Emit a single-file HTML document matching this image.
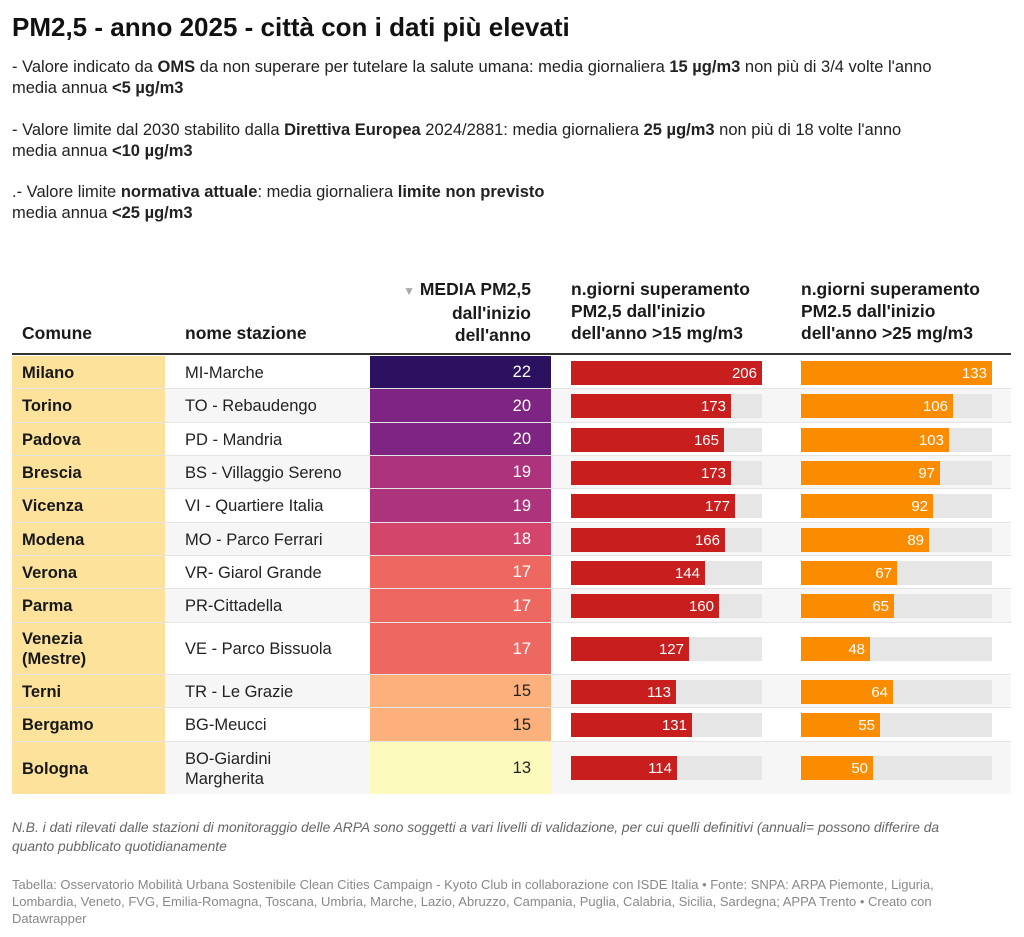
<!DOCTYPE html>
<html><head><meta charset="utf-8"><style>
body{margin:0;width:1024px;height:937px;background:#fff;font-family:"Liberation Sans",sans-serif;color:#181818;position:relative;overflow:hidden}
.a{position:absolute}
h1{position:absolute;left:12px;top:12px;margin:0;font-size:26px;font-weight:bold;color:#111}
.p{position:absolute;left:12px;font-size:16.5px;line-height:21px;color:#222;white-space:nowrap}
.hd{position:absolute;font-size:17.5px;font-weight:bold;line-height:22px;color:#1a1a1a;white-space:nowrap}
.r{position:absolute;left:12px;width:999px;border-bottom:1px solid #e4e4e4;box-sizing:border-box}
.r.g{background:#f6f6f6}
.c{position:absolute;left:0;top:0;bottom:0;width:153px;background:#fde29b;font-weight:bold;font-size:16.5px;display:flex;align-items:center;padding-left:10px;padding-top:1px;box-sizing:border-box;line-height:20px}
.s{position:absolute;left:173px;top:0;bottom:0;display:flex;align-items:center;padding-top:1px;font-size:16.5px;line-height:20px;color:#222}
.m{position:absolute;left:358px;width:181px;top:0;bottom:0;display:flex;align-items:center;justify-content:flex-end;padding-right:20px;padding-top:1px;box-sizing:border-box;font-size:16.5px;color:#fff}
.b1,.b2{position:absolute;height:24px;background:#e6e6e6;width:191px}
.b1{left:559px}.b2{left:789px}
.f{position:absolute;left:0;top:0;height:24px;color:#fff;font-size:15px;line-height:25px;text-align:right;padding-right:5px;box-sizing:border-box}
.b1 .f{background:#c81e1e}.b2 .f{background:#fb8c00}
</style></head><body>
<h1>PM2,5 - anno 2025 - città con i dati più elevati</h1>
<div class="p" style="top:57px">- Valore indicato da <b>OMS</b> da non superare per tutelare la salute umana: media giornaliera <b>15 µg/m3</b> non più di 3/4 volte l'anno<br>media annua <b>&lt;5 µg/m3</b></div>
<div class="p" style="top:120px">- Valore limite dal 2030 stabilito dalla <b>Direttiva Europea</b> 2024/2881: media giornaliera <b>25 µg/m3</b> non più di 18 volte l'anno<br>media annua <b>&lt;10 µg/m3</b></div>
<div class="p" style="top:182px">.- Valore limite <b>normativa attuale</b>: media giornaliera <b>limite non previsto</b><br>media annua <b>&lt;25 µg/m3</b></div>

<div class="hd" style="left:22px;top:322px">Comune</div>
<div class="hd" style="left:185px;top:322px">nome stazione</div>
<div class="hd" style="left:360px;top:278px;width:171px;text-align:right"><span style="color:#aaa;font-size:12px">▼</span> MEDIA PM2,5<br>dall'inizio<br>dell'anno</div>
<div class="hd" style="left:571px;top:278px">n.giorni superamento<br>PM2,5 dall'inizio<br>dell'anno &gt;15 mg/m3</div>
<div class="hd" style="left:801px;top:278px">n.giorni superamento<br>PM2.5 dall'inizio<br>dell'anno &gt;25 mg/m3</div>
<div class="a" style="left:12px;top:353px;width:999px;height:2px;background:#333"></div>

<div class="r" style="top:356px;height:33px"><div class="c">Milano</div><div class="s">MI-Marche</div><div class="m" style="background:#2c1160">22</div><div class="b1" style="top:5px"><div class="f" style="width:191px">206</div></div><div class="b2" style="top:5px"><div class="f" style="width:191px">133</div></div></div>
<div class="r g" style="top:389px;height:34px"><div class="c">Torino</div><div class="s">TO - Rebaudengo</div><div class="m" style="background:#7e2482">20</div><div class="b1" style="top:5px"><div class="f" style="width:160px">173</div></div><div class="b2" style="top:5px"><div class="f" style="width:152px">106</div></div></div>
<div class="r" style="top:423px;height:33px"><div class="c">Padova</div><div class="s">PD - Mandria</div><div class="m" style="background:#7e2482">20</div><div class="b1" style="top:5px"><div class="f" style="width:153px">165</div></div><div class="b2" style="top:5px"><div class="f" style="width:148px">103</div></div></div>
<div class="r g" style="top:456px;height:33px"><div class="c">Brescia</div><div class="s">BS - Villaggio Sereno</div><div class="m" style="background:#ad347c">19</div><div class="b1" style="top:5px"><div class="f" style="width:160px">173</div></div><div class="b2" style="top:5px"><div class="f" style="width:139px">97</div></div></div>
<div class="r" style="top:489px;height:34px"><div class="c">Vicenza</div><div class="s">VI - Quartiere Italia</div><div class="m" style="background:#ad347c">19</div><div class="b1" style="top:5px"><div class="f" style="width:164px">177</div></div><div class="b2" style="top:5px"><div class="f" style="width:132px">92</div></div></div>
<div class="r g" style="top:523px;height:33px"><div class="c">Modena</div><div class="s">MO - Parco Ferrari</div><div class="m" style="background:#d4456b">18</div><div class="b1" style="top:5px"><div class="f" style="width:154px">166</div></div><div class="b2" style="top:5px"><div class="f" style="width:128px">89</div></div></div>
<div class="r" style="top:556px;height:33px"><div class="c">Verona</div><div class="s">VR- Giarol Grande</div><div class="m" style="background:#ee6862">17</div><div class="b1" style="top:5px"><div class="f" style="width:134px">144</div></div><div class="b2" style="top:5px"><div class="f" style="width:96px">67</div></div></div>
<div class="r g" style="top:589px;height:34px"><div class="c">Parma</div><div class="s">PR-Cittadella</div><div class="m" style="background:#ee6862">17</div><div class="b1" style="top:5px"><div class="f" style="width:148px">160</div></div><div class="b2" style="top:5px"><div class="f" style="width:93px">65</div></div></div>
<div class="r" style="top:623px;height:52px"><div class="c">Venezia<br>(Mestre)</div><div class="s">VE - Parco Bissuola</div><div class="m" style="background:#ee6862">17</div><div class="b1" style="top:14px"><div class="f" style="width:118px">127</div></div><div class="b2" style="top:14px"><div class="f" style="width:69px">48</div></div></div>
<div class="r g" style="top:675px;height:33px"><div class="c">Terni</div><div class="s">TR - Le Grazie</div><div class="m" style="background:#fcb07c;color:#222">15</div><div class="b1" style="top:5px"><div class="f" style="width:105px">113</div></div><div class="b2" style="top:5px"><div class="f" style="width:92px">64</div></div></div>
<div class="r" style="top:708px;height:34px"><div class="c">Bergamo</div><div class="s">BG-Meucci</div><div class="m" style="background:#fcb07c;color:#222">15</div><div class="b1" style="top:5px"><div class="f" style="width:121px">131</div></div><div class="b2" style="top:5px"><div class="f" style="width:79px">55</div></div></div>
<div class="r g" style="top:742px;height:52px;border-bottom:none"><div class="c">Bologna</div><div class="s">BO-Giardini<br>Margherita</div><div class="m" style="background:#fcfabc;color:#222">13</div><div class="b1" style="top:14px"><div class="f" style="width:106px">114</div></div><div class="b2" style="top:14px"><div class="f" style="width:72px">50</div></div></div>

<div class="a" style="left:12px;top:818px;font-size:13.8px;line-height:19px;font-style:italic;color:#666;width:970px">N.B. i dati rilevati dalle stazioni di monitoraggio delle ARPA sono soggetti a vari livelli di validazione, per cui quelli definitivi (annuali= possono differire da quanto pubblicato quotidianamente</div>
<div class="a" style="left:12px;top:876px;font-size:13px;line-height:17px;color:#888;width:950px">Tabella: Osservatorio Mobilità Urbana Sostenibile Clean Cities Campaign - Kyoto Club in collaborazione con ISDE Italia • Fonte: SNPA: ARPA Piemonte, Liguria, Lombardia, Veneto, FVG, Emilia-Romagna, Toscana, Umbria, Marche, Lazio, Abruzzo, Campania, Puglia, Calabria, Sicilia, Sardegna; APPA Trento • Creato con Datawrapper</div>
</body></html>
